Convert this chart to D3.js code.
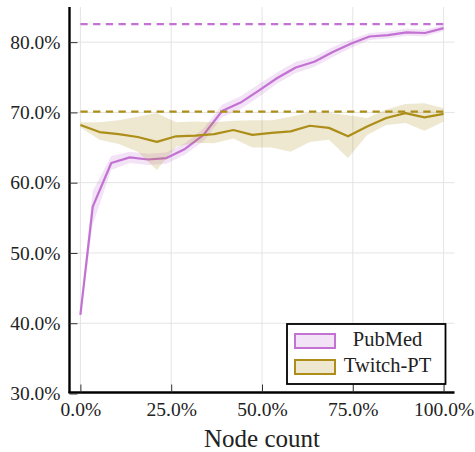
<!DOCTYPE html>
<html>
<head>
<meta charset="utf-8">
<script src="https://cdn.jsdelivr.net/npm/d3@7"></script>
<style>
  html, body { margin: 0; padding: 0; background: #fff; }
  svg { display: block; }
  text { font-family: "Liberation Serif", "DejaVu Serif", serif; fill: #222; }
</style>
</head>
<body>
<svg id="chart" width="475" height="452"></svg>
<script>
// Node-count fractions at which each dataset was evaluated
const pubmedX = [0, 0.034, 0.085, 0.136, 0.186, 0.237, 0.288, 0.339, 0.390, 0.441, 0.491,
                 0.542, 0.593, 0.644, 0.695, 0.746, 0.796, 0.847, 0.898, 0.949, 1.0];
const pubmedMean = [0.412, 0.566, 0.628, 0.636, 0.633, 0.635, 0.648, 0.668, 0.702, 0.714, 0.731,
                    0.749, 0.764, 0.772, 0.786, 0.798, 0.808, 0.810, 0.814, 0.813, 0.820];
const pubmedLow  = [0.410, 0.540, 0.618, 0.628, 0.625, 0.627, 0.640, 0.659, 0.693, 0.705, 0.722,
                    0.741, 0.756, 0.765, 0.779, 0.792, 0.803, 0.805, 0.809, 0.808, 0.816];
const pubmedHigh = [0.414, 0.588, 0.638, 0.644, 0.641, 0.643, 0.656, 0.677, 0.711, 0.723, 0.740,
                    0.757, 0.772, 0.779, 0.793, 0.804, 0.813, 0.815, 0.819, 0.818, 0.824];

const twitchX = [0, 0.0526, 0.1053, 0.1579, 0.2105, 0.2632, 0.3158, 0.3684, 0.4211, 0.4737,
                 0.5263, 0.5789, 0.6316, 0.6842, 0.7368, 0.7895, 0.8421, 0.8947, 0.9474, 1.0];
const twitchMean = [0.682, 0.672, 0.669, 0.665, 0.658, 0.666, 0.667, 0.669, 0.675, 0.668,
                    0.671, 0.673, 0.681, 0.678, 0.666, 0.680, 0.692, 0.699, 0.693, 0.698];
const twitchLow  = [0.679, 0.661, 0.655, 0.644, 0.618, 0.651, 0.657, 0.656, 0.663, 0.650,
                    0.650, 0.644, 0.658, 0.661, 0.635, 0.668, 0.682, 0.685, 0.674, 0.687];
const twitchHigh = [0.686, 0.686, 0.689, 0.694, 0.699, 0.686, 0.687, 0.686, 0.688, 0.689,
                    0.689, 0.694, 0.700, 0.699, 0.696, 0.692, 0.704, 0.712, 0.713, 0.706];

// Full-graph reference accuracies (dashed)
const pubmedFull = 0.8256;
const twitchFull = 0.7011;

const seriesNames = ["PubMed", "Twitch-PT"];
const seriesColors = ["#C371D2", "#AC8E18"];

const xTicks = [0, 0.25, 0.5, 0.75, 1.0];
const yTicks = [0.3, 0.4, 0.5, 0.6, 0.7, 0.8];

const svg = d3.select("#chart");

const x = d3.scaleLinear().domain([-0.03, 1.03]).range([69.5, 454.5]);
const y = d3.scaleLinear().domain([0.30, 0.85]).range([393.5, 7]);
const pct = d3.format(".1%");

// grid
const grid = svg.append("g").attr("stroke", "#e4e4e4").attr("stroke-width", 1);
grid.selectAll("line.v").data(xTicks).join("line")
  .attr("x1", d => x(d)).attr("x2", d => x(d))
  .attr("y1", y.range()[1]).attr("y2", y.range()[0]);
grid.selectAll("line.h").data(yTicks.filter(d => d > 0.3)).join("line")
  .attr("x1", x.range()[0]).attr("x2", x.range()[1])
  .attr("y1", d => y(d)).attr("y2", d => y(d));

const series = [
  { xs: pubmedX, mean: pubmedMean, low: pubmedLow, high: pubmedHigh, color: seriesColors[0] },
  { xs: twitchX, mean: twitchMean, low: twitchLow, high: twitchHigh, color: seriesColors[1] }
];

const area = d3.area()
  .x(d => x(d.x)).y0(d => y(d.lo)).y1(d => y(d.hi));
const line = d3.line().x(d => x(d.x)).y(d => y(d.m));

series.forEach(s => {
  const pts = s.xs.map((xv, i) => ({ x: xv, m: s.mean[i], lo: s.low[i], hi: s.high[i] }));
  svg.append("path").datum(pts).attr("d", area)
    .attr("fill", s.color).attr("fill-opacity", 0.2).attr("stroke", "none");
  svg.append("path").datum(pts).attr("d", line)
    .attr("fill", "none").attr("stroke", s.color).attr("stroke-width", 2.2)
    .attr("stroke-linejoin", "round");
});

// dashed reference lines
[[pubmedFull, seriesColors[0]], [twitchFull, seriesColors[1]]].forEach(([v, c]) => {
  svg.append("line")
    .attr("x1", x(0)).attr("x2", x(1)).attr("y1", y(v)).attr("y2", y(v))
    .attr("stroke", c).attr("stroke-width", 2.2).attr("stroke-dasharray", "7.3,5.4");
});

// axes (ticks point inward)
const xAxis = d3.axisBottom(x).tickValues(xTicks).tickFormat(pct).tickSizeInner(-8).tickSizeOuter(0).tickPadding(14);
const yAxis = d3.axisLeft(y).tickValues(yTicks).tickFormat(pct).tickSizeInner(-8).tickSizeOuter(0).tickPadding(9);

const gx = svg.append("g").attr("transform", `translate(0,${y.range()[0] - 1})`).call(xAxis);
const gy = svg.append("g").attr("transform", `translate(${x.range()[0]},0)`).call(yAxis);

[gx, gy].forEach(g => {
  g.select(".domain").attr("stroke", "#000").attr("stroke-width", 2.4);
  g.selectAll(".tick line").attr("stroke", "#333").attr("stroke-width", 1);
  g.selectAll(".tick text").attr("font-family", "Liberation Serif").attr("font-size", 19.5).attr("fill", "#222");
});
gy.select(".domain").attr("d", `M0,${y.range()[0] - 0.5}V${y.range()[1]}`);
gx.select(".domain").attr("d", `M${x.range()[0] - 1},0H${x.range()[1]}`);
gx.selectAll(".tick text").attr("dy", "0.5em");

// axis title
svg.append("text")
  .attr("x", x(0.5)).attr("y", 447)
  .attr("text-anchor", "middle").attr("font-size", 25)
  .text("Node count");

// legend
const lg = svg.append("g");
lg.append("rect").attr("x", 287).attr("y", 324).attr("width", 158.5).attr("height", 60)
  .attr("fill", "#fff").attr("stroke", "#000").attr("stroke-width", 1.8);
seriesNames.forEach((name, i) => {
  const yy = 334 + i * 26;
  lg.append("rect").attr("x", 295).attr("y", yy).attr("width", 40).attr("height", 14)
    .attr("fill", d3.color(seriesColors[i]).copy({ opacity: 0.2 }))
    .attr("stroke", seriesColors[i]).attr("stroke-width", 2);
  lg.append("text").attr("x", 387.5).attr("y", yy + 12)
    .attr("text-anchor", "middle").attr("font-size", 20.5).text(name);
});
</script>
</body>
</html>
